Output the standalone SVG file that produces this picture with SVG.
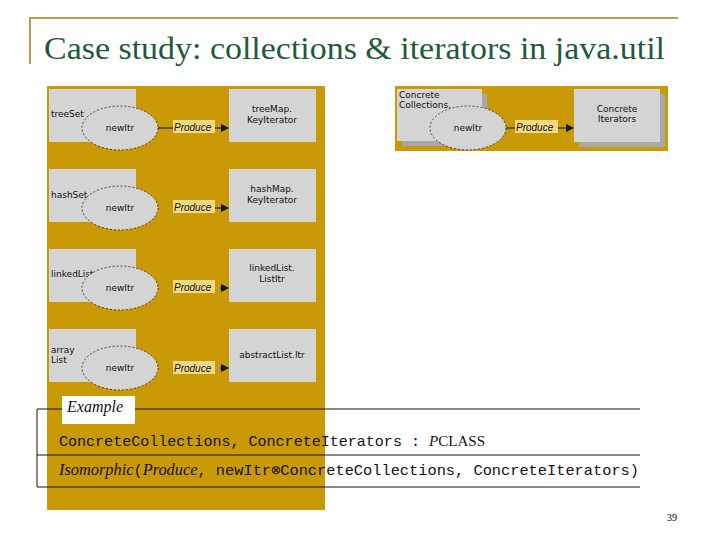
<svg xmlns="http://www.w3.org/2000/svg" width="720" height="540" viewBox="0 0 720 540">
<style>
.box{fill:#d4d4d4}
.sh{fill:#a8a8a8}
.el{fill:#d4d4d4;stroke:#222;stroke-width:0.8;stroke-dasharray:2 2}
.t{font-family:"DejaVu Sans",sans-serif;font-size:9px;fill:#111}
.p{font-family:"Liberation Sans",sans-serif;font-size:10px;font-style:italic;fill:#111}
.hl{fill:#f2d98a}
.ln{stroke:#111;stroke-width:1;fill:none}
.m{font-family:"Liberation Mono",monospace;font-size:15px;fill:#111}
.s{font-family:"Liberation Serif",serif;font-size:16px;font-style:italic;fill:#111}
</style>
<defs><marker id="a" markerWidth="8" markerHeight="8" refX="7" refY="4" orient="auto" markerUnits="userSpaceOnUse"><path d="M0,0L8,4L0,8z" fill="#111"/></marker></defs>
<rect width="720" height="540" fill="#fff"/>
<path d="M30,64V18H678" stroke="#b3a24a" stroke-width="2" fill="none"/>
<text x="44" y="59" font-family="Liberation Serif,serif" font-size="31" fill="#1f5a3a" textLength="621" lengthAdjust="spacingAndGlyphs">Case study: collections &amp; iterators in java.util</text>
<rect x="47" y="86" width="278" height="424" fill="#c99a05"/>
<rect x="395" y="86" width="273" height="65" fill="#c99a05"/>
<g id="row1"><rect class="box" x="49" y="89" width="87" height="53"/><text class="t" x="51" y="117">treeSet</text><ellipse class="el" cx="120" cy="128" rx="38" ry="22"/><text class="t" x="120" y="131" text-anchor="middle">newItr</text><rect class="box" x="229" y="89" width="87" height="53"/><text class="t" x="272" y="112" text-anchor="middle">treeMap.</text><text class="t" x="272" y="123" text-anchor="middle">KeyIterator</text></g>
<g id="row2"><rect class="box" x="49" y="169" width="87" height="53"/><text class="t" x="51" y="198">hashSet</text><ellipse class="el" cx="120" cy="208" rx="38" ry="22"/><text class="t" x="120" y="211" text-anchor="middle">newItr</text><rect class="box" x="229" y="169" width="87" height="53"/><text class="t" x="272" y="192" text-anchor="middle">hashMap.</text><text class="t" x="272" y="203" text-anchor="middle">KeyIterator</text></g>
<g id="row3"><rect class="box" x="49" y="249" width="87" height="53"/><text class="t" x="51" y="277">linkedList</text><ellipse class="el" cx="120" cy="288" rx="38" ry="22"/><text class="t" x="120" y="291" text-anchor="middle">newItr</text><rect class="box" x="229" y="249" width="87" height="53"/><text class="t" x="272" y="271" text-anchor="middle">linkedList.</text><text class="t" x="272" y="282" text-anchor="middle">ListItr</text></g>
<g id="row4"><rect class="box" x="49" y="329" width="87" height="53"/><text class="t" x="51" y="353">array</text><text class="t" x="51" y="363">List</text><ellipse class="el" cx="120" cy="368" rx="38" ry="22"/><text class="t" x="120" y="371" text-anchor="middle">newItr</text><rect class="box" x="229" y="329" width="87" height="53"/><text class="t" x="272" y="358" text-anchor="middle">abstractList.Itr</text></g>
<g id="top"><rect class="sh" x="402" y="94" width="85" height="52"/><rect class="box" x="397" y="89" width="85" height="52"/><text class="t" x="399" y="98">Concrete</text><text class="t" x="399" y="108">Collections.</text><ellipse class="el" cx="468" cy="128" rx="38" ry="22"/><text class="t" x="468" y="131" text-anchor="middle">newItr</text><rect class="sh" x="579" y="94" width="86" height="53"/><rect class="box" x="574" y="89" width="86" height="53"/><text class="t" x="617" y="112" text-anchor="middle">Concrete</text><text class="t" x="617" y="122" text-anchor="middle">Iterators</text></g>
<g id="connectors">
<rect class="hl" x="173" y="120" width="42" height="13"/><rect class="hl" x="173" y="200" width="42" height="13"/><rect class="hl" x="173" y="280" width="42" height="13"/><rect class="hl" x="173" y="361" width="42" height="13"/><rect class="hl" x="515" y="120" width="43" height="13"/>
<path class="ln" d="M158,128H173" /><path class="ln" d="M215,128H228" marker-end="url(#a)"/>
<path class="ln" d="M215,208H228" marker-end="url(#a)"/>
<path class="ln" d="M220,288H228" marker-end="url(#a)"/>
<path class="ln" d="M220,368H228" marker-end="url(#a)"/>
<path class="ln" d="M506,128H515"/><path class="ln" d="M558,128H573" marker-end="url(#a)"/>
<text class="p" x="174" y="131">Produce</text><text class="p" x="174" y="211">Produce</text><text class="p" x="174" y="291">Produce</text><text class="p" x="174" y="372">Produce</text><text class="p" x="516" y="131">Produce</text>
</g>
<g id="example">
<path class="ln" d="M37,487V409H640M37,455H640M37,487H640"/>
<rect x="62" y="396" width="73" height="28" fill="#fff"/>
<text class="s" x="67" y="412">Example</text>
<text class="m" x="59" y="446" textLength="426" lengthAdjust="spacingAndGlyphs">ConcreteCollections, ConcreteIterators : <tspan font-family="Liberation Serif,serif" font-style="italic">P</tspan><tspan font-family="Liberation Serif,serif">CLASS</tspan></text>
<text x="59" y="475" class="m" textLength="580" lengthAdjust="spacingAndGlyphs"><tspan class="s">Isomorphic</tspan>(<tspan class="s">Produce</tspan>, newItr⊗ConcreteCollections, ConcreteIterators)</text>
</g>
<text x="672" y="521" font-family="Liberation Serif,serif" font-size="10" text-anchor="middle">39</text>
</svg>
